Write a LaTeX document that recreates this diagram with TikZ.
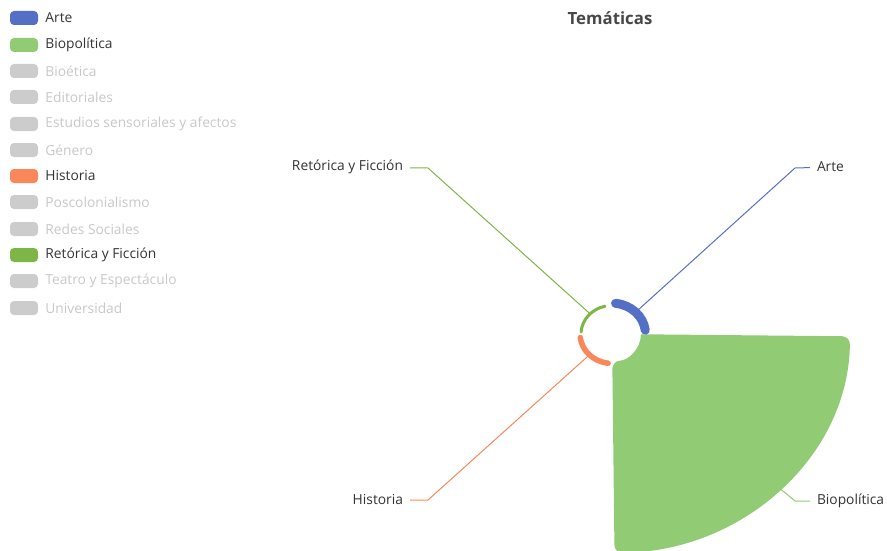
\documentclass[tikz,border=0pt]{standalone}
\usepackage{fontspec}
\setmainfont{Open Sans}
\usetikzlibrary{positioning,calc}
\definecolor{arte}{HTML}{5470C6}
\definecolor{biopol}{HTML}{91CC75}
\definecolor{historia}{HTML}{F9875A}
\definecolor{retorica}{HTML}{7DB646}
\definecolor{off}{HTML}{CCCCCC}
\definecolor{offtext}{HTML}{C8C8C8}
\definecolor{ink}{HTML}{333333}
\tikzstyle{key}=[rectangle, rounded corners=4pt, minimum width=28pt, minimum height=14pt, inner sep=0pt, draw=none]
\tikzstyle{keytext}=[anchor=west, inner sep=0pt, font=\fontsize{13.8}{16}\selectfont]
\tikzstyle{lbl}=[inner sep=0pt, outer sep=7pt, text=ink, font=\fontsize{13.8}{16}\selectfont]
\tikzstyle{lead}=[line width=1pt]
\newcommand{\legendkey}[5]
{
  \node[key, fill=#3](#1) at (24,#2){};
  \node[keytext, text=#4, right=7pt of #1](#1Text){#5};
}

\begin{document}
\begin{tikzpicture}[x=1pt, y=-1pt]
	\useasboundingbox (0,0) rectangle (887,551);

	% legend
	\legendkey{keyArte}{18}{arte}{ink}{Arte}
	\legendkey{keyBio}{45}{biopol}{ink}{Biopolítica}
	\legendkey{keyBioetica}{71}{off}{offtext}{Bioética}
	\legendkey{keyEdit}{97}{off}{offtext}{Editoriales}
	\legendkey{keyEstudios}{124}{off}{offtext}{Estudios sensoriales y afectos}
	\legendkey{keyGenero}{150}{off}{offtext}{Género}
	\legendkey{keyHistoria}{176}{historia}{ink}{Historia}
	\legendkey{keyPosc}{202}{off}{offtext}{Poscolonialismo}
	\legendkey{keyRedes}{229}{off}{offtext}{Redes Sociales}
	\legendkey{keyRetorica}{255}{retorica}{ink}{Retórica y Ficción}
	\legendkey{keyTeatro}{281}{off}{offtext}{Teatro y Espectáculo}
	\legendkey{keyUniv}{308}{off}{offtext}{Universidad}

	\node[font=\bfseries\fontsize{16.8}{19}\selectfont, text=ink!90](title) at (610,18){Temáticas};

	% rose sectors
	\begin{scope}[shift={(612,334)}, yscale=-0.92]
		\fill[biopol] (-0.6:29) [rounded corners=8pt] -- (-0.6:238) arc[start angle=-0.6, end angle=-89.4, radius=238]
			-- (-89.4:29) [sharp corners] arc[start angle=-89.4, end angle=-0.6, radius=29] -- cycle;
		\draw[arte, line width=9pt, line cap=round] (84:33.5) arc[start angle=84, end angle=7, radius=33.5];
		\draw[historia, line width=5.5pt, line cap=round] (187:32) arc[start angle=187, end angle=263, radius=32];
		\draw[retorica, line width=3pt, line cap=round] (176:31) arc[start angle=176, end angle=103, radius=31];

		\coordinate (artePt) at (45:38);
		\coordinate (bioPt) at (-45:238);
		\coordinate (historiaPt) at (225:35);
		\coordinate (retoricaPt) at (135:32);
	\end{scope}

	% labels
	\node[lbl, anchor=west](arteLbl) at (810,167){Arte};
	\node[lbl, anchor=west](bioLbl) at (810,501){Biopolítica};
	\node[lbl, anchor=east](historiaLbl) at (410,500){Historia};
	\node[lbl, anchor=east](retoricaLbl) at (410,167){Retórica y Ficción};

	\coordinate (arteBend) at (795,168);
	\coordinate (bioBend) at (795,501);
	\coordinate (historiaBend) at (428,500);
	\coordinate (retoricaBend) at (428,168);

	\draw[lead, arte] (artePt) -- (arteBend) -- (arteLbl);
	\draw[lead, biopol] (bioPt) -- (bioBend) -- (bioLbl);
	\draw[lead, historia] (historiaPt) -- (historiaBend) -- (historiaLbl);
	\draw[lead, retorica] (retoricaPt) -- (retoricaBend) -- (retoricaLbl);
\end{tikzpicture}
\end{document}
